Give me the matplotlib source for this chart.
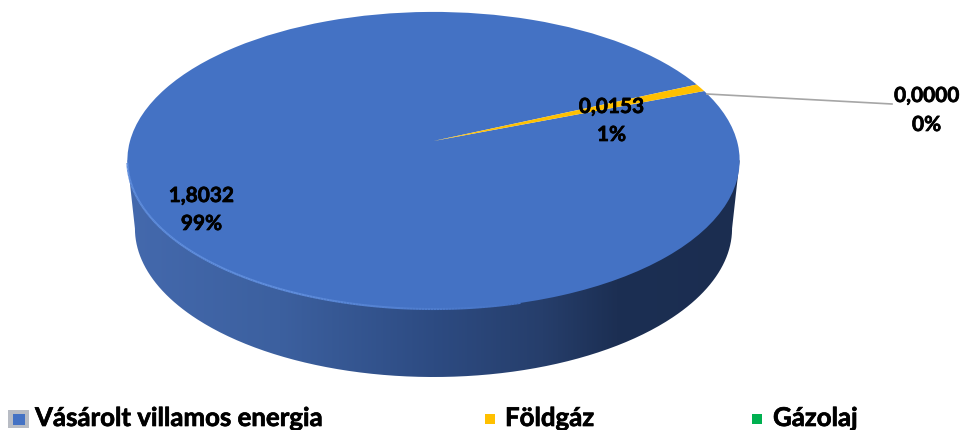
import numpy as np
import matplotlib
matplotlib.use("Agg")
import matplotlib.pyplot as plt
import matplotlib.patheffects as pe
from matplotlib.transforms import Transform
from matplotlib.path import Path
from matplotlib.patches import PathPatch, Rectangle
from matplotlib.collections import LineCollection
from matplotlib.colors import LinearSegmentedColormap, to_rgb

categories = ["Vásárolt villamos energia", "Földgáz", "Gázolaj"]
values = [1.8032, 0.0153, 0.0000]
value_labels = ["1,8032", "0,0153", "0,0000"]
pct_labels = ["99%", "1%", "0%"]
colors = ["#4472C4", "#FFC000", "#00B050"]

plt.rcParams['font.family'] = ['Lato', 'DejaVu Sans']
W, H = 961, 430
fig = plt.figure(figsize=(W/100, H/100), dpi=100)
ax = fig.add_axes([0, 0, 1, 1])
ax.set_xlim(0, W); ax.set_ylim(H, 0); ax.axis('off')

class Persp(Transform):
    """Tilted disc: maps a unit-disc pie to the perspective ellipse in pixel coordinates."""
    input_dims = output_dims = 2
    def __init__(self, cx, cy, a, b, k):
        super().__init__(); self.p = (cx, cy, a, b, k)
    def transform_non_affine(self, v):
        cx, cy, a, b, k = self.p
        v = np.asarray(v, float)
        d = 1 + k * v[:, 1]
        return np.column_stack([cx + a * v[:, 0] / d, cy - b * v[:, 1] / d])

top = Persp(433.5, 141, 303.5, 146, 0.131)
bot = Persp(433.5, 209, 296, 146, 0.131)
t = np.linspace(0, 2*np.pi, 721)
circ = np.column_stack([np.cos(t), np.sin(t)])
te, be = top.transform(circ), bot.transform(circ)

def lower_arc(e):
    l, r = e[:, 0].argmin(), e[:, 0].argmax()
    return e[l:].tolist() + e[:r+1].tolist() if r < l else e[l:r+1].tolist()

# side wall between the top rim and the bottom rim
lt, lb = np.array(lower_arc(te)), np.array(lower_arc(be))
poly = np.vstack([lt[:1], lb, lt[-1:]])
cmap = LinearSegmentedColormap.from_list("side", [(0, "#4469ad"), (0.25, "#3c609f"), (0.5, "#2d4b82"),
                                                  (0.68, "#263e6b"), (0.8, "#1c2f53"), (1, "#1b2d50")])
im = ax.imshow(np.linspace(0, 1, 256)[None, :], extent=(127, 740, 380, 130), cmap=cmap, aspect='auto', zorder=1)
im.set_clip_path(PathPatch(Path(poly), transform=ax.transData))
ax.set_xlim(0, W); ax.set_ylim(H, 0)

wedges, _ = ax.pie(values, colors=colors, startangle=21, counterclock=False, radius=1,
                   wedgeprops=dict(linewidth=0), normalize=True)
ax.set_xlim(0, W); ax.set_ylim(H, 0); ax.set_aspect('auto')
for w in wedges:
    w.set_transform(top + ax.transData)
    w.set_zorder(3)
ax.axis('off')

# lit rim on the front-left of the top face, fading out towards the right
front = te[(t > np.radians(188)) & (t < np.radians(285))]
segs = np.stack([front[:-1], front[1:]], axis=1)
c0, c1 = np.array(to_rgb("#5f8ddc")), np.array(to_rgb(colors[0]))
f = np.clip((np.linspace(0, 1, len(segs)) - 0.6) / 0.4, 0, 1)[:, None]
ax.add_collection(LineCollection(segs, colors=c0*(1-f)+c1*f, linewidths=1.5, zorder=4))

# leader line
ax.plot([707, 892], [94, 104], color="#a6a6a6", lw=1.2, zorder=5)

bold = [pe.withStroke(linewidth=0.5, foreground='black')]
lab = dict(ha='center', va='center', fontsize=15, fontweight='bold', color='black', zorder=6, path_effects=bold)
ax.text(201.5, 196, value_labels[0], **lab); ax.text(201.5, 224, pct_labels[0], **lab)
ax.text(611.5, 107, value_labels[1], **lab); ax.text(611.5, 135, pct_labels[1], **lab)
ax.text(926.5, 96, value_labels[2], **lab); ax.text(926.5, 125, pct_labels[2], **lab)

# legend
leg = dict(ha='left', va='center', fontsize=18.6, fontweight='bold', color='black', zorder=6, path_effects=bold)
ax.text(35, 418, categories[0], **leg)
ax.text(505, 418, categories[1], **leg)
ax.text(773, 418, categories[2], **leg)
ax.add_patch(Rectangle((8, 410), 21, 18, fc="#b8bcc4", ec="none", zorder=5))
ax.add_patch(Rectangle((13, 414), 12, 11, fc=colors[0], ec="none", zorder=6))
ax.add_patch(Rectangle((485, 414), 10, 10, fc=colors[1], ec="none", zorder=5))
ax.add_patch(Rectangle((752, 414), 10, 10, fc=colors[2], ec="none", zorder=5))
fig.savefig("out.png", dpi=100)
